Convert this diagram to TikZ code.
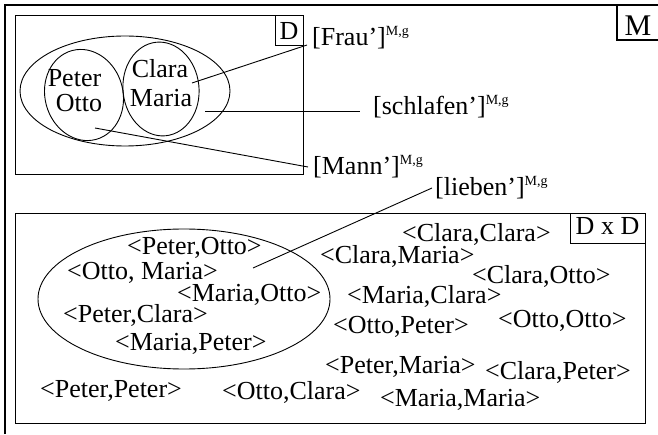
\documentclass[tikz,border=0pt]{standalone}
\usepackage{fontspec}
\setmainfont{Liberation Serif}
\newcommand{\mgsup}{\raisebox{0.42em}{\fontsize{14}{14}\selectfont M,g}}
\tikzset{
  lbl/.style={inner sep=0pt, anchor=base west},
  nm/.style={inner sep=0pt, anchor=base},
  thin/.style={line width=0.9pt},
  frame/.style={line width=2.6pt},
}
\begin{document}
\begin{tikzpicture}[x=1pt,y=1pt,font=\fontsize{26}{28}\selectfont]
\useasboundingbox (0,0) rectangle (658,434);
% outer model frame M
\draw[frame] (5,0) -- (5,429) -- (659,429);
\draw[line width=2pt] (617,429) -- (617,394) -- (659,394);
\node[nm, font=\fontsize{30}{32}\selectfont] (M) at (638,398) {M};
% domain D
\draw[thin] (15,419) rectangle (303,260);
\draw[thin] (275,419) rectangle (303,389);
\node[nm] (D) at (289,394) {D};
\draw[thin] (125,343) ellipse [x radius=105, y radius=55];
\draw[thin, rotate around={15:(84,339)}] (84,339) ellipse [x radius=39, y radius=46];
\draw[thin, rotate around={6:(161,345)}] (161,345) ellipse [x radius=38, y radius=47];
\node[nm] (peter) at (74.5,347) {Peter};
\node[nm] (otto) at (79,322) {Otto};
\node[nm] (clara) at (160,356) {Clara};
\node[nm] (maria) at (161,327) {Maria};
% labels
\node[lbl] (frau) at (312,388) {[Frau’]\mgsup};
\node[lbl] (schlafen) at (373,319) {[schlafen’]\mgsup};
\node[lbl] (mann) at (313,259) {[Mann’]\mgsup};
\node[lbl] (lieben) at (435,238) {[lieben’]\mgsup};
\coordinate (frauA) at (192,351);
\coordinate (frauB) at (307,389);
\coordinate (schlA) at (205,323);
\coordinate (schlB) at (360,323);
\coordinate (mannA) at (95,306);
\coordinate (mannB) at (308,267);
\coordinate (liebA) at (253,166);
\coordinate (liebB) at (432,246);
\draw[thin] (frauA) -- (frauB);
\draw[thin] (schlA) -- (schlB);
\draw[thin] (mannA) -- (mannB);
\draw[thin] (liebA) -- (liebB);
% D x D
\draw[thin] (15,221) rectangle (645,11);
\draw[thin] (570,221) rectangle (645,191);
\node[nm] (DxD) at (607.5,199) {D x D};
\draw[thin] (184,135) ellipse [x radius=146, y radius=70];
\node[lbl] (p1) at (127,179) {<Peter,Otto>};
\node[lbl] (p2) at (67,155) {<Otto, Maria>};
\node[lbl] (p3) at (177,133) {<Maria,Otto>};
\node[lbl] (p4) at (63,112) {<Peter,Clara>};
\node[lbl] (p5) at (115,84) {<Maria,Peter>};
\node[lbl] (p6) at (40,37) {<Peter,Peter>};
\node[lbl] (p7) at (222,35) {<Otto,Clara>};
\node[lbl] (p8) at (402,192) {<Clara,Clara>};
\node[lbl] (p9) at (320,170) {<Clara,Maria>};
\node[lbl] (p10) at (472,151) {<Clara,Otto>};
\node[lbl] (p11) at (347,131) {<Maria,Clara>};
\node[lbl] (p12) at (333,101) {<Otto,Peter>};
\node[lbl] (p13) at (498,107) {<Otto,Otto>};
\node[lbl] (p14) at (325,61) {<Peter,Maria>};
\node[lbl] (p15) at (485,55) {<Clara,Peter>};
\node[lbl] (p16) at (380,28) {<Maria,Maria>};
\end{tikzpicture}
\end{document}
